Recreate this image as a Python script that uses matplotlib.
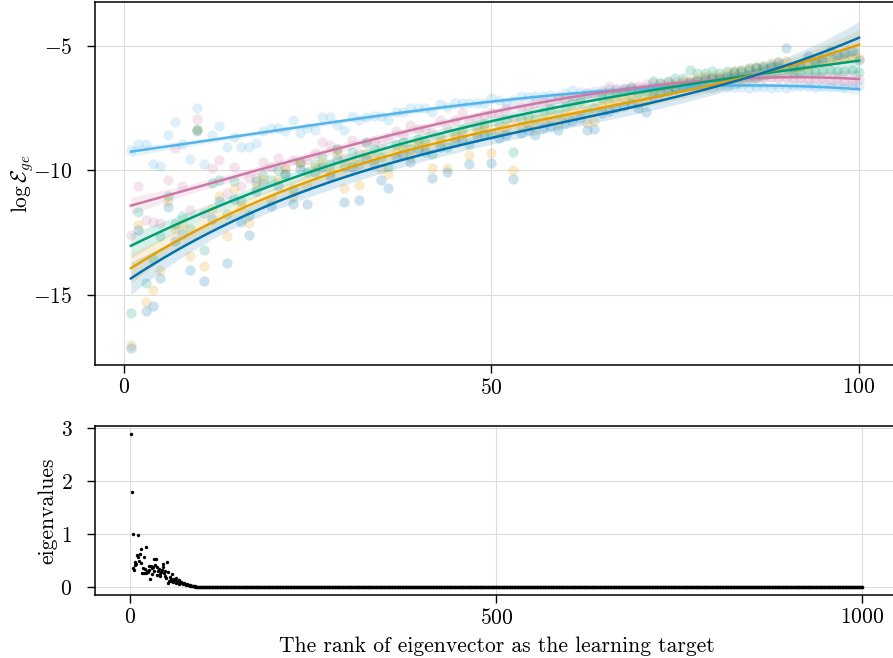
import numpy as np
import matplotlib
matplotlib.use("Agg")
import matplotlib.pyplot as plt

plt.rcParams['font.family'] = 'serif'
plt.rcParams['font.serif'] = ['cmr10', 'DejaVu Serif']
plt.rcParams['mathtext.fontset'] = 'cm'
plt.rcParams['axes.formatter.use_mathtext'] = True
plt.rcParams['font.size'] = 15.5

# rank of the target eigenvector (top panel)
rank = np.arange(1, 101)

# log generalisation error, one list per series
err_lightblue = [
    -9.18, -8.95, -8.95, -9.74, -9.82, -8.60, -8.04, -8.95, -9.55, -7.50,
    -9.74, -8.58, -8.22, -9.05, -8.68, -9.05, -9.05, -8.89, -8.44, -8.28,
    -8.28, -8.44, -7.97, -8.51, -8.30, -8.37, -7.86, -7.86, -8.17, -8.37,
    -7.81, -7.97, -7.86, -7.81, -7.81, -7.97, -7.64, -7.64, -7.50, -7.50,
    -7.50, -7.64, -7.33, -7.44, -7.30, -7.28, -7.30, -7.28, -7.28, -7.10,
    -7.17, -7.30, -7.17, -7.01, -7.06, -7.01, -7.03, -6.97, -7.01, -6.90,
    -6.79, -6.87, -6.90, -6.83, -6.79, -6.74, -6.75, -6.72, -6.70, -6.72,
    -6.68, -6.70, -6.66, -6.68, -6.64, -6.66, -6.63, -6.68, -6.65, -6.70,
    -6.63, -6.67, -6.65, -6.67, -6.69, -6.65, -6.67, -6.70, -6.67, -6.69,
    -6.60, -6.63, -6.61, -6.64, -6.60, -6.63, -6.62, -6.64, -6.61, -6.62,
]
err_pink = [
    -12.62, -10.65, -11.99, -12.06, -12.12, -10.38, -9.11, -10.63, -11.60, -7.95,
    -11.70, -9.92, -9.58, -10.90, -9.85, -10.65, -10.30, -10.32, -9.65, -9.88,
    -9.51, -9.85, -9.58, -9.72, -9.60, -9.30, -8.88, -8.98, -9.15, -9.50,
    -8.77, -9.30, -8.90, -8.84, -9.00, -8.70, -8.44, -8.60, -8.17, -8.35,
    -8.35, -8.50, -7.97, -8.30, -7.97, -7.64, -8.04, -7.90, -7.77, -7.68,
    -7.77, -7.50, -7.90, -7.40, -7.50, -7.30, -7.20, -7.35, -7.10, -7.15,
    -7.00, -7.05, -6.90, -6.95, -6.85, -6.63, -6.75, -6.70, -6.60, -6.60,
    -6.55, -6.50, -6.50, -6.45, -6.45, -6.40, -6.40, -6.35, -6.35, -6.30,
    -6.30, -6.30, -6.25, -6.30, -6.25, -6.30, -6.30, -6.25, -6.30, -6.30,
    -6.30, -6.30, -6.35, -6.30, -6.30, -6.35, -6.30, -6.35, -6.35, -6.34,
]
err_green = [
    -15.74, -11.66, -14.53, -13.55, -12.65, -11.05, -12.15, -11.83, -12.35, -8.35,
    -13.20, -10.52, -10.38, -11.75, -10.45, -11.25, -11.79, -10.45, -10.18, -10.38,
    -9.98, -10.15, -10.75, -9.65, -10.05, -9.75, -9.45, -9.75, -9.15, -9.85,
    -9.25, -9.75, -8.85, -9.15, -9.45, -9.85, -8.95, -8.85, -9.15, -8.75,
    -8.85, -9.35, -8.65, -9.05, -8.55, -8.35, -8.95, -8.25, -8.15, -8.55,
    -8.15, -7.95, -9.28, -7.95, -7.85, -7.95, -7.65, -7.55, -7.75, -7.45,
    -7.30, -7.20, -7.60, -7.50, -7.10, -7.00, -6.90, -6.80, -6.70, -6.90,
    -6.80, -6.40, -6.50, -6.40, -6.30, -6.30, -5.96, -6.10, -6.10, -6.00,
    -6.10, -6.00, -6.00, -5.95, -5.90, -5.85, -5.90, -5.85, -5.85, -5.90,
    -6.05, -6.10, -6.00, -6.05, -6.00, -5.95, -6.00, -6.00, -5.95, -6.05,
]
err_orange = [
    -17.01, -12.19, -15.31, -14.80, -14.00, -11.25, -12.35, -12.15, -13.46, -8.38,
    -13.86, -11.55, -11.05, -12.66, -10.75, -11.45, -12.12, -10.65, -10.35, -11.15,
    -10.35, -9.95, -11.05, -9.75, -10.65, -9.85, -9.65, -10.05, -9.35, -10.70,
    -9.65, -10.60, -9.35, -9.55, -9.95, -10.15, -9.25, -9.15, -9.45, -8.95,
    -9.05, -9.90, -8.85, -9.90, -8.65, -8.55, -9.40, -8.45, -8.35, -9.30,
    -8.40, -8.30, -9.98, -8.20, -8.10, -8.30, -8.00, -7.90, -8.10, -7.80,
    -7.70, -7.60, -8.10, -8.00, -7.40, -7.30, -7.20, -7.10, -7.00, -7.30,
    -7.20, -6.80, -6.70, -6.60, -6.60, -6.50, -6.40, -6.30, -6.20, -6.20,
    -6.20, -6.10, -6.00, -5.95, -5.90, -5.85, -5.80, -5.70, -5.65, -5.60,
    -5.90, -5.85, -5.80, -5.70, -5.65, -5.60, -5.55, -5.50, -5.45, -5.50,
]
err_blue = [
    -17.14, -12.39, -15.65, -15.44, -14.33, -11.46, -12.85, -12.55, -14.00, -8.44,
    -14.47, -11.95, -11.25, -13.73, -11.15, -12.06, -12.59, -10.85, -10.55, -11.45,
    -10.65, -10.15, -11.35, -9.95, -11.36, -10.05, -9.85, -10.25, -9.55, -11.27,
    -9.85, -11.20, -9.55, -9.75, -10.40, -10.70, -9.45, -9.35, -9.65, -9.15,
    -9.25, -10.30, -9.05, -10.05, -8.85, -8.75, -9.75, -8.65, -8.55, -9.70,
    -8.70, -8.60, -10.34, -8.50, -8.40, -8.60, -8.30, -8.20, -8.40, -8.10,
    -8.00, -7.90, -8.40, -8.35, -7.70, -7.60, -7.50, -7.40, -7.30, -7.50,
    -7.65, -7.00, -6.90, -6.80, -6.75, -6.60, -6.50, -6.40, -6.30, -6.30,
    -6.30, -6.20, -6.10, -6.05, -5.95, -5.90, -5.80, -5.75, -5.65, -5.10,
    -5.85, -5.80, -5.40, -5.60, -5.50, -5.20, -5.35, -5.30, -5.20, -5.55,
]

# eigenvalues of the kernel, in rank order (bottom panel)
eig_head = [
    2.88, 1.80, 1.00, 0.36, 0.32, 0.42, 0.475, 0.44, 0.60, 0.99,
    0.56, 0.50, 0.63, 0.71, 0.45, 0.26, 0.36, 0.26, 0.56, 0.35,
    0.27, 0.76, 0.31, 0.29, 0.40, 0.33, 0.16, 0.40, 0.36, 0.25,
    0.38, 0.53, 0.30, 0.42, 0.53, 0.38, 0.22, 0.31, 0.34, 0.24,
    0.20, 0.29, 0.33, 0.44, 0.38, 0.26, 0.21, 0.30, 0.17, 0.475,
    0.07, 0.29, 0.12, 0.19, 0.15, 0.11, 0.24, 0.09, 0.13, 0.16,
    0.14, 0.08, 0.18, 0.10, 0.12, 0.14, 0.06, 0.09, 0.10, 0.07,
    0.08, 0.06, 0.07, 0.05, 0.06, 0.045, 0.05, 0.04, 0.035, 0.03,
    0.03, 0.025, 0.022, 0.02, 0.017, 0.015, 0.013, 0.011, 0.010, 0.008,
    0.007, 0.006, 0.005, 0.004, 0.004, 0.003, 0.003, 0.002, 0.002, 0.002,
]
eig_tail = [0.0] * 900
eigenvalues = np.array(eig_head + eig_tail)
eig_rank = np.arange(1, len(eigenvalues) + 1)

series = [
    (err_lightblue, '#56B4E9'),
    (err_pink, '#CC79A7'),
    (err_green, '#009E73'),
    (err_orange, '#E69F00'),
    (err_blue, '#0072B2'),
]


def cubic_fit(x, y, xs):
    # least squares cubic with a 95% band for the mean
    X = np.vander(x, 4)
    coef, *_ = np.linalg.lstsq(X, y, rcond=None)
    resid = y - X @ coef
    s2 = resid @ resid / (len(x) - 4)
    cov = s2 * np.linalg.inv(X.T @ X)
    Xs = np.vander(xs, 4)
    yhat = Xs @ coef
    se = np.sqrt(np.sum((Xs @ cov) * Xs, axis=1))
    return yhat, yhat - 1.96 * se, yhat + 1.96 * se


fig = plt.figure(figsize=(8.93, 6.58), dpi=100)
W, H = 893.0, 658.0
ax1 = fig.add_axes([94.5 / W, 1 - 364.5 / H, (895.5 - 94.5) / W, (364.5 - 2) / H])
ax2 = fig.add_axes([94.5 / W, 1 - 594.5 / H, (899 - 94.5) / W, (594.5 - 426) / H])

xs = np.linspace(1, 100, 200)
for vals, col in series:
    y = np.array(vals)
    ax1.scatter(rank, y, s=55, color=col, alpha=0.2, linewidths=0, zorder=2)
    yhat, lo, hi = cubic_fit(rank.astype(float), y, xs)
    ax1.fill_between(xs, lo, hi, color=col, alpha=0.15, linewidth=0, zorder=2)
    ax1.plot(xs, yhat, color=col, lw=1.8, zorder=3)

ax1.set_xlim(-3.95, 104.95)
ax1.set_ylim(-17.81, -3.233)
ax1.set_xticks([0, 50, 100])
ax1.set_yticks([-15, -10, -5])
ax1.set_ylabel(r'$\log\mathcal{E}_{ge}$', labelpad=-2)

ax2.scatter(eig_rank, eigenvalues, s=6, color='black', linewidths=0, zorder=3)
ax2.set_xlim(-48.95, 1049.95)
ax2.set_ylim(-0.14, 3.04)
ax2.set_xticks([0, 500, 1000])
ax2.set_yticks([0, 1, 2, 3])
ax2.set_ylabel('eigenvalues', labelpad=2)
ax2.set_xlabel('The rank of eigenvector as the learning target', labelpad=6)

for ax in (ax1, ax2):
    ax.grid(True, color='#dddddd', lw=0.8, zorder=0)
    ax.set_axisbelow(True)
    ax.tick_params(direction='out', length=6, width=1, colors='black')
    ax.tick_params(axis='y', pad=10)
    for sp in ax.spines.values():
        sp.set_linewidth(1.1)
        sp.set_color('black')

fig.savefig('out.png', dpi=100)
